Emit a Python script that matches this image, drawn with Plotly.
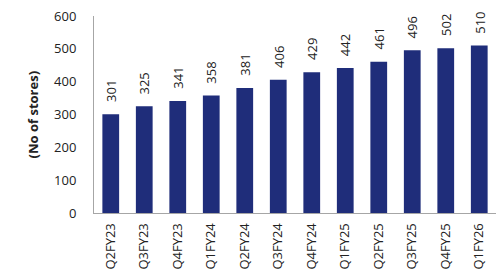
import plotly.graph_objects as go

quarters = ["Q2FY23", "Q3FY23", "Q4FY23", "Q1FY24", "Q2FY24", "Q3FY24",
            "Q4FY24", "Q1FY25", "Q2FY25", "Q3FY25", "Q4FY25", "Q1FY26"]
stores = [301, 325, 341, 358, 381, 406, 429, 442, 461, 496, 502, 510]
y_ticks = [0, 100, 200, 300, 400, 500, 600]

FONT = "Open Sans"
TXT = "#222222"
AXC = "#A6A6A6"

fig = go.Figure()
fig.add_trace(go.Bar(x=quarters, y=stores, marker=dict(color="#1F2D7A", line=dict(width=0))))

for q, v in zip(quarters, stores):
    fig.add_annotation(x=q, y=v, text=str(v), textangle=-90, showarrow=False,
                       xanchor="center", yanchor="bottom", yshift=10,
                       font=dict(family=FONT, size=13, color=TXT))

fig.add_annotation(xref="paper", yref="paper", x=-0.152, y=0.5, text="<b>(No of stores)</b>",
                   textangle=-90, showarrow=False, xanchor="center", yanchor="middle",
                   font=dict(family=FONT, size=13, color=TXT))

fig.update_layout(
    width=500, height=280,
    margin=dict(l=94, r=4, t=16, b=67),
    paper_bgcolor="white", plot_bgcolor="white",
    bargap=0.5, showlegend=False,
    font=dict(family=FONT, size=13, color=TXT),
)
fig.update_xaxes(showline=True, linecolor=AXC, linewidth=1, tickangle=-90,
                 ticks="", showgrid=False, tickfont=dict(family=FONT, size=13, color=TXT),
                 ticklabelstandoff=4)
fig.update_yaxes(range=[0, 600], tickvals=y_ticks, showline=True, linecolor=AXC, linewidth=1,
                 showgrid=False, zeroline=False, ticks="", ticklabelstandoff=14,
                 tickfont=dict(family=FONT, size=13, color=TXT))

fig.write_html("out.html")
